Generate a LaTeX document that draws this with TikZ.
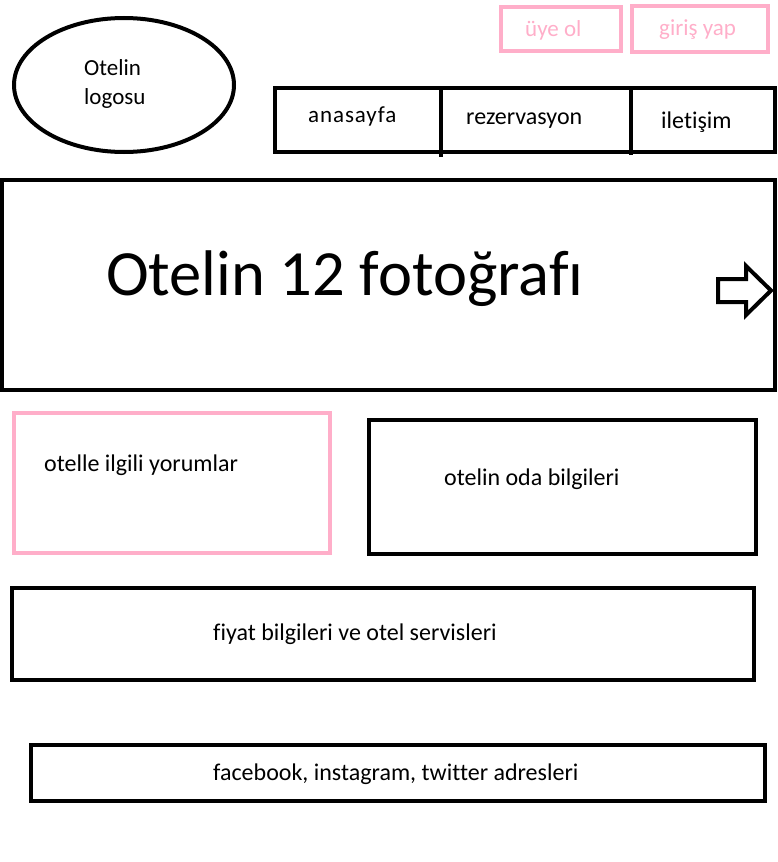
\documentclass[tikz,border=0pt]{standalone}
\usepackage{fontspec}
\setmainfont[Ligatures=NoCommon]{Carlito}
\definecolor{lightpink}{RGB}{255,174,201}
\begin{document}
\begin{tikzpicture}[x=1pt,y=-1pt,
  frame/.style={draw=black,line width=4pt},
  pinkframe/.style={draw=lightpink,line width=4.5pt},
  label/.style={inner sep=0pt,anchor=west,font=\fontsize{24}{28}\selectfont},
  pinklabel/.style={label,text=lightpink}]
\useasboundingbox (0,0) rectangle (778,862);

% header: logo and account buttons
\draw[frame] (124,85) ellipse [x radius=110,y radius=67];
\node[inner sep=0pt,align=left,anchor=west,font=\fontsize{23}{29}\selectfont] (logo) at (84,84) {Otelin\\logosu};

\draw[pinkframe] (501,7) rectangle (621,51);
\node[pinklabel,font=\fontsize{23}{28}\selectfont] (signup) at (525,30) {üye ol};
\draw[pinkframe] (632,6) rectangle (768,52);
\node[pinklabel,font=\fontsize{23}{28}\selectfont] (login) at (659,30) {giriş yap};

% navigation bar
\draw[frame] (275,88) rectangle (775,152);
\draw[frame] (441,88) -- (441,157);
\draw[frame] (631,88) -- (631,155);
\node[label,font=\fontsize{23}{28}\selectfont\addfontfeature{LetterSpace=4}] (home) at (308,116) {anasayfa};
\node[label] (booking) at (466,121) {rezervasyon};
\node[label] (contact) at (661,122) {iletişim};

% photo slider
\draw[frame] (2,180) rectangle (775,390);
\node[inner sep=0pt,anchor=west,font=\fontsize{64.5}{72}\selectfont] (photos) at (106,279) {Otelin 12 fotoğrafı};
\draw[frame,line join=miter] (718,279) -- (746,279) -- (746,266) -- (771,290.5)
  -- (746,315) -- (746,302) -- (718,302) -- cycle;

% content blocks
\draw[pinkframe] (14,413) rectangle (330,553);
\node[label] (reviews) at (44,465) {otelle ilgili yorumlar};
\draw[frame] (369,420) rectangle (756,554);
\node[label] (rooms) at (444,479) {otelin oda bilgileri};
\draw[frame] (12,588) rectangle (754,680);
\node[label] (prices) at (213,634) {fiyat bilgileri ve otel servisleri};

% footer
\draw[frame] (31,745) rectangle (765,801);
\node[label] (social) at (213,774) {facebook, instagram, twitter adresleri};
\end{tikzpicture}
\end{document}
